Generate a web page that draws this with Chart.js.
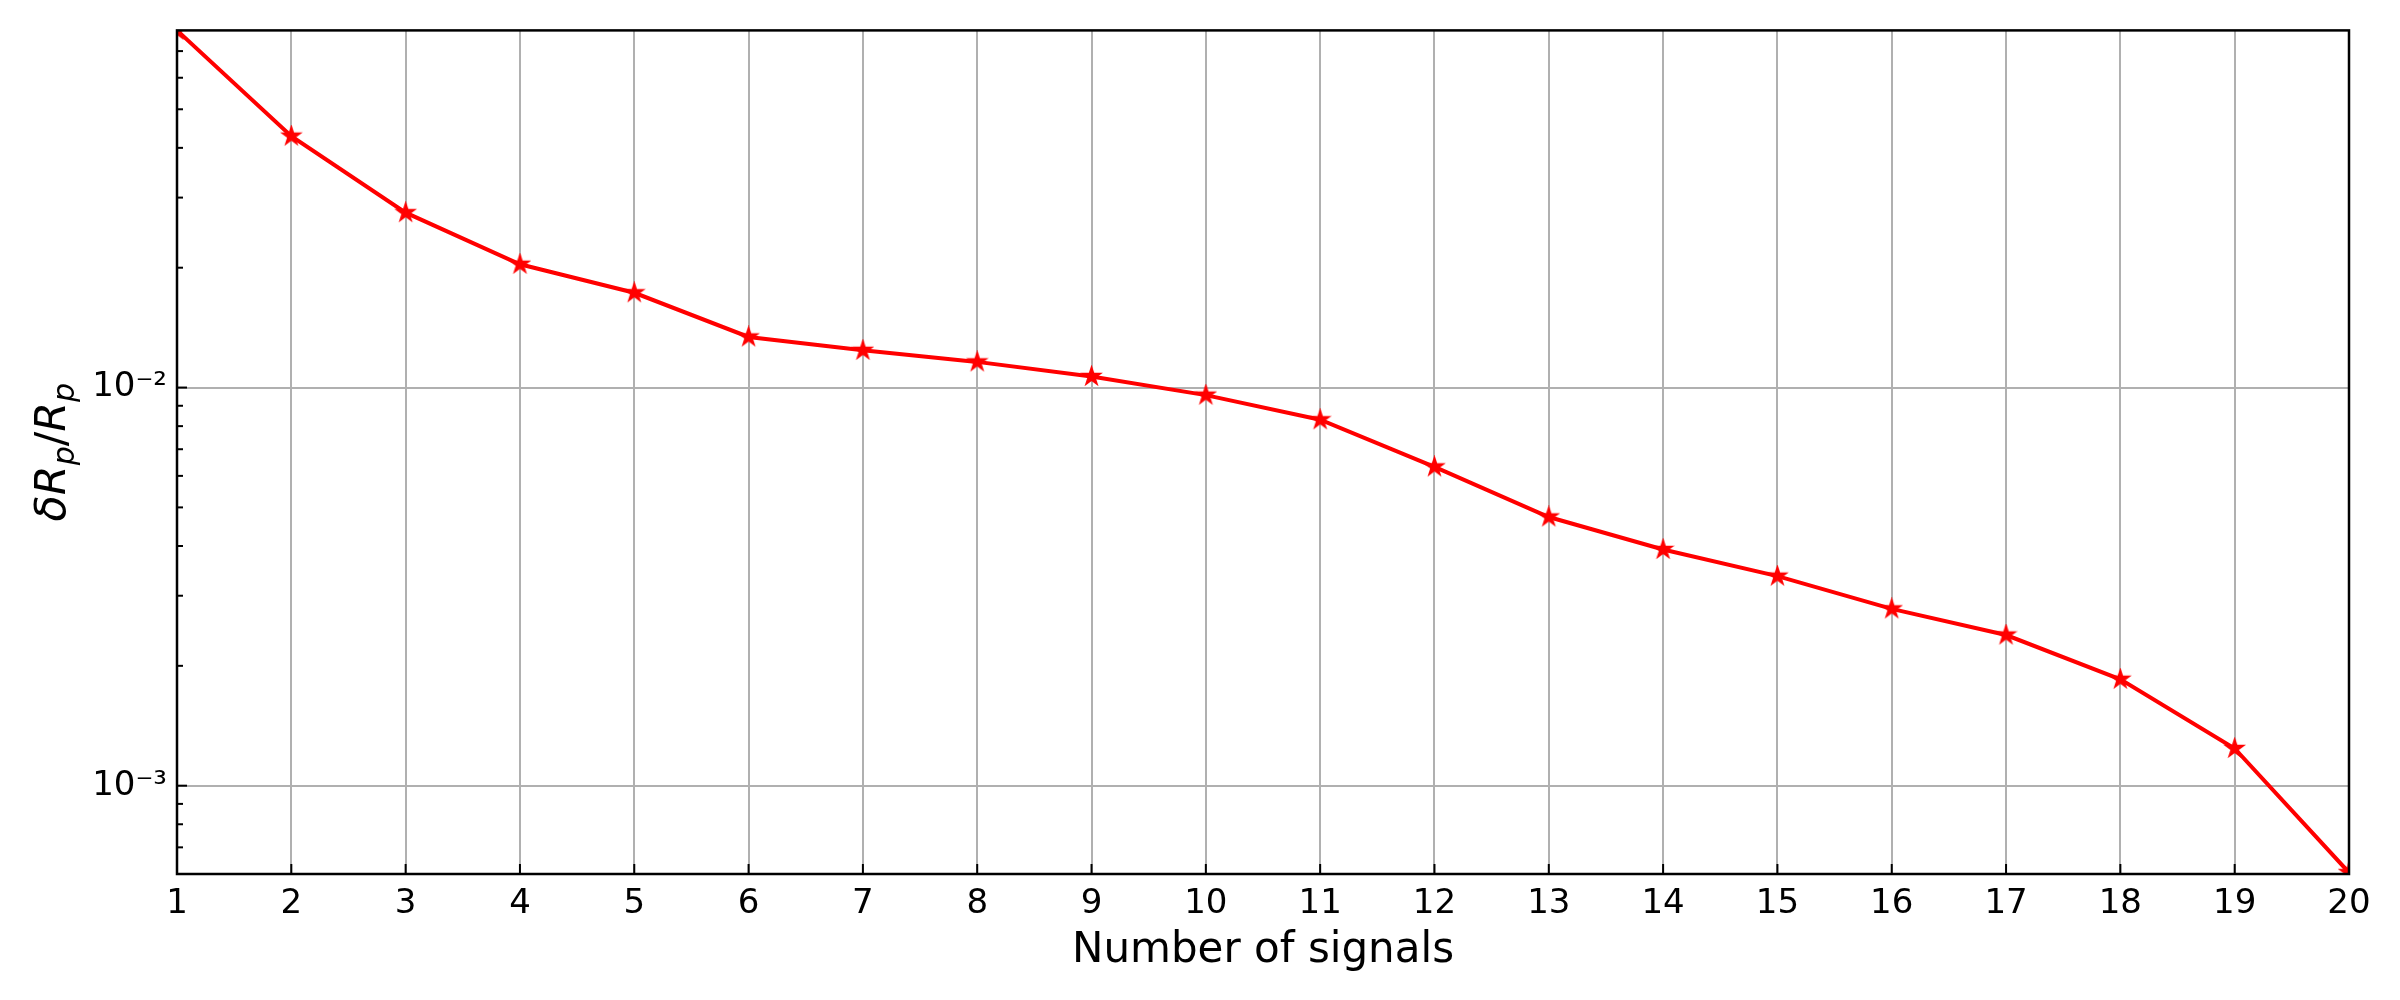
<!DOCTYPE html>
<html>
<head>
<meta charset="utf-8">
<script src="https://cdn.jsdelivr.net/npm/chart.js@4.4.1/dist/chart.umd.min.js"></script>
<style>
  html, body { margin: 0; padding: 0; background: #fff; }
  #wrap { width: 2400px; height: 1000px; }
</style>
</head>
<body>
<div id="wrap"><canvas id="myChart" width="2400" height="1000"></canvas></div>
<script>
// data
const signals = [1, 2, 3, 4, 5, 6, 7, 8, 9, 10, 11, 12, 13, 14, 15, 16, 17, 18, 19, 20];
const relError = [0.0789, 0.0428, 0.0275, 0.0204, 0.0173, 0.0134, 0.0124, 0.0116, 0.01066, 0.00957,
                  0.0083, 0.00632, 0.00473, 0.00392, 0.00336, 0.00278, 0.00239, 0.00185, 0.00124, 0.000605];
const decadeLabels = { "-2": "10\u207B\u00B2", "-3": "10\u207B\u00B3" };
const xTitle = "Number of signals";

const FONT = "'DejaVu Sans', sans-serif";
const GRID = "#b0b0b0";

function isDecade(v) {
  const l = Math.log10(v);
  return Math.abs(l - Math.round(l)) < 1e-9;
}

// filled five point star like matplotlib '*'
function makeStar(r, color) {
  const c = document.createElement("canvas");
  const s = Math.ceil(r * 2 + 4);
  c.width = s; c.height = s;
  const g = c.getContext("2d");
  g.translate(s / 2, s / 2);
  g.beginPath();
  for (let i = 0; i < 10; i++) {
    const rr = i % 2 === 0 ? r : r * 0.382;
    const a = -Math.PI / 2 + i * Math.PI / 5;
    g.lineTo(rr * Math.cos(a), rr * Math.sin(a));
  }
  g.closePath();
  g.fillStyle = color;
  g.fill();
  g.strokeStyle = color;
  g.lineWidth = 1.5;
  g.stroke();
  return c;
}
const star = makeStar(9.5, "#ff0000");

const framePlugin = {
  id: "frame",
  afterDraw(chart) {
    const ctx = chart.ctx;
    const a = chart.chartArea;
    const xs = chart.scales.x, ys = chart.scales.y;
    ctx.save();
    ctx.strokeStyle = "#000";
    ctx.lineWidth = 2;
    // x ticks pointing in
    signals.forEach(v => {
      const px = xs.getPixelForValue(v);
      ctx.beginPath(); ctx.moveTo(px, a.bottom); ctx.lineTo(px, a.bottom - 10); ctx.stroke();
    });
    // y ticks, major + minor
    ys.ticks.forEach(t => {
      const lg = Math.log10(t.value);
      const m = t.value / Math.pow(10, Math.floor(lg + 1e-9));
      if (Math.abs(m - Math.round(m)) > 1e-6) return;
      const py = ys.getPixelForValue(t.value);
      if (py < a.top + 1 || py > a.bottom - 1) return;
      const len = isDecade(t.value) ? 10 : 6;
      ctx.beginPath(); ctx.moveTo(a.left, py); ctx.lineTo(a.left + len, py); ctx.stroke();
    });
    ctx.lineWidth = 2.5;
    ctx.strokeRect(a.left, a.top, a.right - a.left, a.bottom - a.top);

    // axis titles
    ctx.fillStyle = "#000";
    ctx.textBaseline = "alphabetic";
    ctx.textAlign = "center";
    ctx.font = "42px " + FONT;
    ctx.fillText(xTitle, (a.left + a.right) / 2, 962);

    // y title: δR_p/R_p
    const parts = [
      { t: "\u03B4R", f: "italic 43px " + FONT, dy: 0 },
      { t: "p", f: "italic 30px " + FONT, dy: 9 },
      { t: "/", f: "43px " + FONT, dy: 0 },
      { t: "R", f: "italic 43px " + FONT, dy: 0 },
      { t: "p", f: "italic 30px " + FONT, dy: 9 }
    ];
    ctx.textAlign = "left";
    let w = 0;
    parts.forEach(p => { ctx.font = p.f; p.w = ctx.measureText(p.t).width; w += p.w; });
    ctx.translate(65, (a.top + a.bottom) / 2);
    ctx.rotate(-Math.PI / 2);
    let x = -w / 2;
    parts.forEach(p => { ctx.font = p.f; ctx.fillText(p.t, x, p.dy); x += p.w; });
    ctx.restore();
  }
};

const ctx = document.getElementById("myChart");
const myChart = new Chart(ctx, {
  type: "line",
  data: {
    datasets: [{
      data: signals.map((s, i) => ({ x: s, y: relError[i] })),
      borderColor: "#ff0000",
      backgroundColor: "#ff0000",
      borderWidth: 4,
      pointStyle: star,
      pointRadius: 9,
      tension: 0,
      fill: false,
      clip: 0
    }]
  },
  options: {
    responsive: false,
    animation: false,
    events: [],
    layout: { padding: { top: 30, right: 51, left: 0, bottom: 0 } },
    plugins: { legend: { display: false }, tooltip: { enabled: false } },
    scales: {
      x: {
        type: "linear",
        min: signals[0],
        max: signals[signals.length - 1],
        afterFit: s => { s.height = 126; },
        border: { display: false },
        grid: { color: GRID, lineWidth: 2, drawTicks: false },
        ticks: {
          stepSize: 1,
          autoSkip: false,
          maxRotation: 0,
          padding: 10,
          color: "#000",
          font: { family: FONT, size: 34 }
        }
      },
      y: {
        type: "logarithmic",
        min: Math.min(...relError),
        max: Math.max(...relError),
        afterFit: s => { s.width = 177; },
        border: { display: false },
        grid: {
          drawTicks: false,
          lineWidth: 2,
          color: c => (c.tick && isDecade(c.tick.value)) ? GRID : "rgba(0,0,0,0)"
        },
        ticks: {
          autoSkip: false,
          padding: 10,
          color: "#000",
          font: { family: FONT, size: 34 },
          callback: v => {
            if (!isDecade(v)) return "";
            return decadeLabels[String(Math.round(Math.log10(v)))] || "";
          }
        }
      }
    }
  },
  plugins: [framePlugin]
});
</script>
</body>
</html>
